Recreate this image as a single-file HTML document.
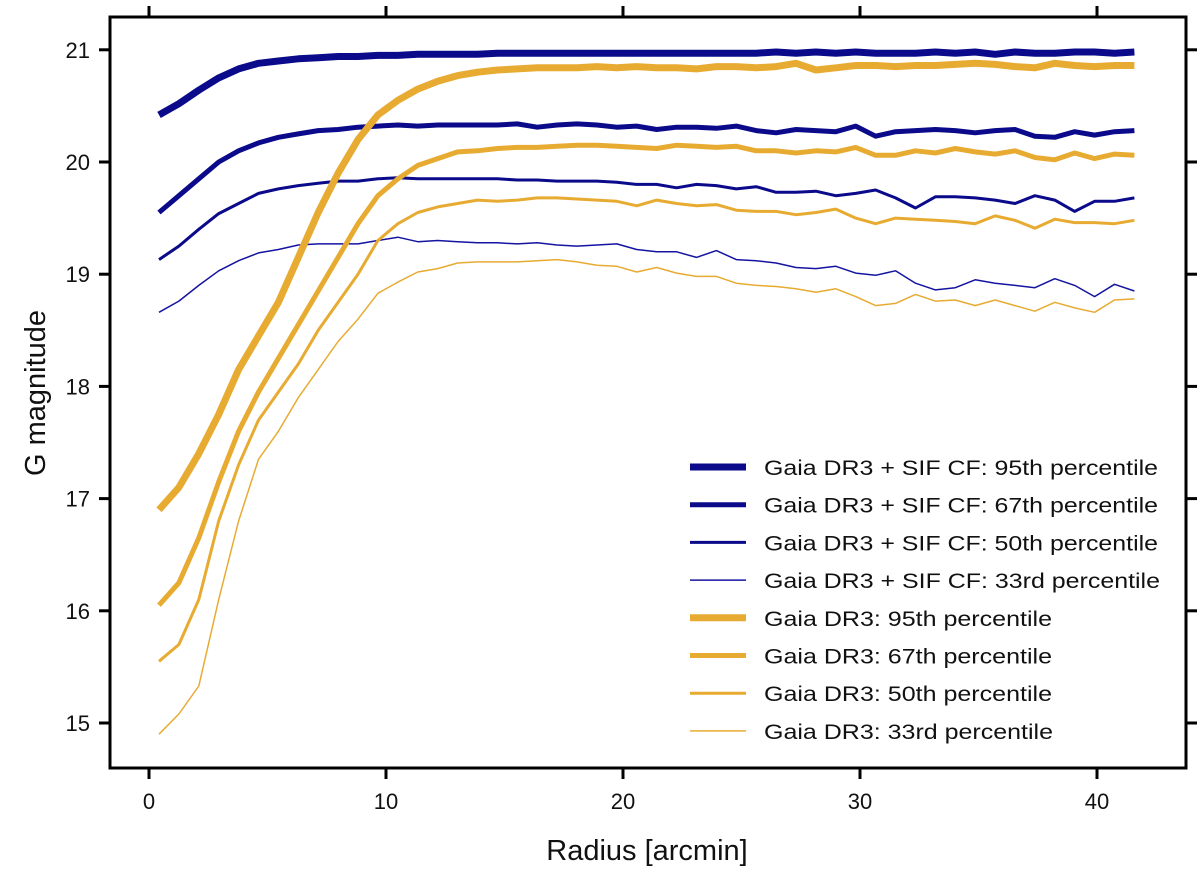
<!DOCTYPE html>
<html><head><meta charset="utf-8"><style>
body{margin:0;background:#fff}
svg{display:block;font-family:"Liberation Sans",sans-serif}
</style></head><body>
<svg id="chart" width="1200" height="871"></svg>
<script>
const radii=[0.42,1.26,2.1,2.94,3.78,4.62,5.46,6.3,7.14,7.98,8.82,9.66,10.5,11.34,12.18,13.02,13.86,14.7,15.54,16.38,17.22,18.06,18.9,19.74,20.58,21.42,22.26,23.1,23.94,24.78,25.62,26.46,27.3,28.14,28.98,29.82,30.66,31.5,32.34,33.18,34.02,34.86,35.7,36.54,37.38,38.22,39.06,39.9,40.74,41.58];
const blue95=[20.42,20.52,20.64,20.75,20.83,20.88,20.90,20.92,20.93,20.94,20.94,20.95,20.95,20.96,20.96,20.96,20.96,20.97,20.97,20.97,20.97,20.97,20.97,20.97,20.97,20.97,20.97,20.97,20.97,20.97,20.97,20.98,20.97,20.98,20.97,20.98,20.97,20.97,20.97,20.98,20.97,20.98,20.96,20.98,20.97,20.97,20.98,20.98,20.97,20.98];
const blue67=[19.55,19.70,19.85,20.00,20.10,20.17,20.22,20.25,20.28,20.29,20.31,20.32,20.33,20.32,20.33,20.33,20.33,20.33,20.34,20.31,20.33,20.34,20.33,20.31,20.32,20.29,20.31,20.31,20.30,20.32,20.28,20.26,20.29,20.28,20.27,20.32,20.23,20.27,20.28,20.29,20.28,20.26,20.28,20.29,20.23,20.22,20.27,20.24,20.27,20.28];
const blue50=[19.13,19.25,19.40,19.54,19.63,19.72,19.76,19.79,19.81,19.83,19.83,19.85,19.86,19.85,19.85,19.85,19.85,19.85,19.84,19.84,19.83,19.83,19.83,19.82,19.80,19.80,19.77,19.80,19.79,19.76,19.78,19.73,19.73,19.74,19.70,19.72,19.75,19.68,19.59,19.69,19.69,19.68,19.66,19.63,19.70,19.66,19.56,19.65,19.65,19.68];
const blue33=[18.66,18.76,18.90,19.03,19.12,19.19,19.22,19.26,19.27,19.27,19.27,19.30,19.33,19.29,19.30,19.29,19.28,19.28,19.27,19.28,19.26,19.25,19.26,19.27,19.22,19.20,19.20,19.15,19.21,19.13,19.12,19.10,19.06,19.05,19.07,19.01,18.99,19.03,18.92,18.86,18.88,18.95,18.92,18.90,18.88,18.96,18.90,18.80,18.91,18.85];
const gold95=[16.90,17.10,17.40,17.75,18.15,18.45,18.75,19.15,19.55,19.90,20.20,20.42,20.55,20.65,20.72,20.77,20.80,20.82,20.83,20.84,20.84,20.84,20.85,20.84,20.85,20.84,20.84,20.83,20.85,20.85,20.84,20.85,20.88,20.82,20.84,20.86,20.86,20.85,20.86,20.86,20.87,20.88,20.87,20.85,20.84,20.88,20.86,20.85,20.86,20.86];
const gold67=[16.05,16.25,16.65,17.15,17.60,17.95,18.25,18.55,18.85,19.15,19.45,19.70,19.85,19.97,20.03,20.09,20.10,20.12,20.13,20.13,20.14,20.15,20.15,20.14,20.13,20.12,20.15,20.14,20.13,20.14,20.10,20.10,20.08,20.10,20.09,20.13,20.06,20.06,20.10,20.08,20.12,20.09,20.07,20.10,20.04,20.02,20.08,20.03,20.07,20.06];
const gold50=[15.55,15.70,16.10,16.80,17.30,17.70,17.95,18.20,18.50,18.75,19.00,19.30,19.45,19.55,19.60,19.63,19.66,19.65,19.66,19.68,19.68,19.67,19.66,19.65,19.61,19.66,19.63,19.61,19.62,19.57,19.56,19.56,19.53,19.55,19.58,19.50,19.45,19.50,19.49,19.48,19.47,19.45,19.52,19.48,19.41,19.49,19.46,19.46,19.45,19.48];
const gold33=[14.90,15.08,15.33,16.10,16.80,17.35,17.60,17.90,18.15,18.40,18.60,18.83,18.93,19.02,19.05,19.10,19.11,19.11,19.11,19.12,19.13,19.11,19.08,19.07,19.02,19.06,19.01,18.98,18.98,18.92,18.90,18.89,18.87,18.84,18.87,18.80,18.72,18.74,18.82,18.76,18.77,18.72,18.77,18.72,18.67,18.75,18.70,18.66,18.77,18.78];
const xTicks=[0,10,20,30,40];
const yTicks=[15,16,17,18,19,20,21];
const legendLabels=["Gaia DR3 + SIF CF: 95th percentile","Gaia DR3 + SIF CF: 67th percentile","Gaia DR3 + SIF CF: 50th percentile","Gaia DR3 + SIF CF: 33rd percentile","Gaia DR3: 95th percentile","Gaia DR3: 67th percentile","Gaia DR3: 50th percentile","Gaia DR3: 33rd percentile"];

const L=110,R=1186,T=17,B=768;
const xs=v=>149+v*23.7;
const ys=v=>723-(v-15)*112.2;
const svg=document.getElementById('chart');
const NS='http://www.w3.org/2000/svg';
function mk(tag,attrs,parent){const e=document.createElementNS(NS,tag);for(const k in attrs)e.setAttribute(k,attrs[k]);(parent||svg).appendChild(e);return e;}

const series=[[blue95,'#0a0a8a',7],[blue67,'#0a0a8a',5],[blue50,'#0a0a8a',3],[blue33,'#1414a0',1.5],[gold95,'#e8ab32',7],[gold67,'#e8ab32',5],[gold50,'#e8ab32',3],[gold33,'#e8ab32',1.5]];
const names=['line-dr3-sif-95th','line-dr3-sif-67th','line-dr3-sif-50th','line-dr3-sif-33rd','line-dr3-95th','line-dr3-67th','line-dr3-50th','line-dr3-33rd'];
const cp=mk('clipPath',{id:'cp'});mk('rect',{x:L,y:T,width:R-L,height:B-T},cp);
const g=mk('g',{'clip-path':'url(#cp)'});
series.forEach((s,i)=>{
  const [d,c,w]=s;
  const p=mk('polyline',{points:d.map((v,j)=>xs(radii[j]).toFixed(1)+','+ys(v).toFixed(1)).join(' '),fill:'none',stroke:c,'stroke-width':w,'stroke-linejoin':'round'},g);
  
  
});
const frame=mk('rect',{x:L,y:T,width:R-L,height:B-T,fill:'none',stroke:'#000','stroke-width':3});


xTicks.forEach(v=>{
  const x=xs(v);
  mk('line',{x1:x,x2:x,y1:B,y2:B+11,stroke:'#000','stroke-width':3});
  mk('line',{x1:x,x2:x,y1:T,y2:T-11,stroke:'#000','stroke-width':3});
  const t=mk('text',{x:x,y:B+41,'text-anchor':'middle','font-size':22,fill:'#111'});t.textContent=v;
  
  
});
yTicks.forEach(v=>{
  const y=ys(v);
  mk('line',{x1:L,x2:L-11,y1:y,y2:y,stroke:'#000','stroke-width':3});
  mk('line',{x1:R,x2:R+11,y1:y,y2:y,stroke:'#000','stroke-width':3});
  const t=mk('text',{x:L-20,y:y+8,'text-anchor':'end','font-size':22,fill:'#111'});t.textContent=v;
  
  
});
const xl=mk('text',{x:647,y:860,'text-anchor':'middle','font-size':29,fill:'#111'});xl.textContent='Radius [arcmin]';


const yl=mk('text',{x:0,y:0,'text-anchor':'middle','font-size':29,fill:'#111',transform:'translate(45,393) rotate(-90)'});yl.textContent='G magnitude';


legendLabels.forEach((lab,i)=>{
  const y=467+i*37.7;
  const [d,c,w]=series[i];
  const ln=mk('line',{x1:690,x2:746,y1:y,y2:y,stroke:c,'stroke-width':w});
  
  
  const t=mk('text',{x:764,y:y+8,'font-size':21,fill:'#111',textLength:i<4?(i==3?396:394):(i==7?289:288),lengthAdjust:'spacingAndGlyphs'});t.textContent=lab;
  
  
});
</script>
</body></html>
